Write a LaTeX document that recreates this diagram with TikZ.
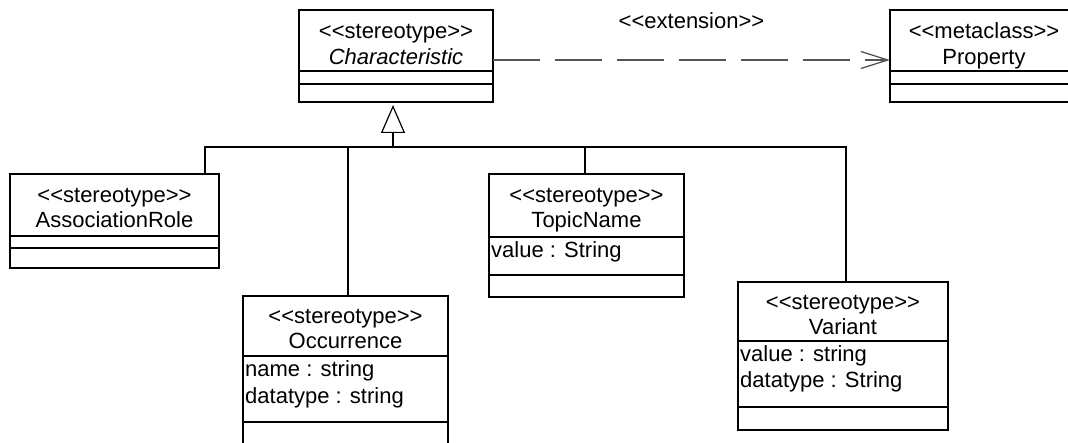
\documentclass[tikz,border=0pt]{standalone}
\usepackage{fontspec}
\setmainfont{Liberation Sans}
\usetikzlibrary{arrows.meta,calc}
\definecolor{umlink}{HTML}{000000}
\definecolor{umlgray}{HTML}{555555}
\tikzset{
  uml/.style={font=\fontsize{22}{26}\selectfont, text=umlink},
  umlbox/.style={draw=umlink, line width=1.4pt, anchor=north west, inner sep=0pt, outer sep=0pt},
  umlsep/.style={draw=umlink, line width=1.2pt},
  umltxt/.style={anchor=base, inner sep=0pt},
  umlattr/.style={anchor=base west, inner sep=0pt},
  umltree/.style={draw=umlink, line width=1.2pt},
  umlgen/.style={-{Triangle[open,length=28pt,width=24pt]}, draw=umlink, line width=1.2pt, shorten >=3pt},
  umlext/.style={-{Straight Barb[length=27pt,width=17pt]}, draw=umlgray, line width=1.3pt,
    dash pattern=on 47pt off 15pt},
}
\newcommand{\umlstereo}[1]{{<}{<}#1{>}{>}}
\newcommand{\umlcompartment}[2]{\draw[umlsep] ([yshift=-#2pt]#1.north west) -- ([yshift=-#2pt]#1.north east);}

\begin{document}
\begin{tikzpicture}[uml, x=1pt, y=-1pt]
  \useasboundingbox (0,0) rectangle (1068,443);
  \clip (0,0) rectangle (1068,443);
  % classes
  \node[umlbox, minimum width=194pt, minimum height=92pt] (characteristic) at (299,10) {};
  \umlcompartment{characteristic}{61}
  \umlcompartment{characteristic}{74}
  \node[umltxt] (charst) at ([yshift=-29pt]characteristic.north) {\umlstereo{stereotype}};
  \node[umltxt] (charnm) at ([yshift=-55pt]characteristic.north) {\itshape Characteristic};

  \node[umlbox, minimum width=188pt, minimum height=92pt] (property) at (890,10) {};
  \umlcompartment{property}{61}
  \umlcompartment{property}{74}
  \node[umltxt] (propst) at ([yshift=-29pt]property.north) {\umlstereo{metaclass}};
  \node[umltxt] (propnm) at ([yshift=-55pt]property.north) {Property};

  \node[umlbox, minimum width=209pt, minimum height=94pt] (assocrole) at (10,174) {};
  \umlcompartment{assocrole}{62}
  \umlcompartment{assocrole}{74}
  \node[umltxt] (assocst) at ([yshift=-29pt]assocrole.north) {\umlstereo{stereotype}};
  \node[umltxt] (assocnm) at ([yshift=-54pt]assocrole.north) {AssociationRole};

  \node[umlbox, minimum width=205pt, minimum height=160pt] (occurrence) at (243,296) {};
  \umlcompartment{occurrence}{60}
  \umlcompartment{occurrence}{126}
  \node[umltxt] (occst) at ([yshift=-28pt]occurrence.north) {\umlstereo{stereotype}};
  \node[umltxt] (occnm) at ([yshift=-53pt]occurrence.north) {Occurrence};
  \node[umlattr] (occname) at ([xshift=2pt,yshift=-81pt]occurrence.north west) {name : string};
  \node[umlattr] (occtype) at ([xshift=2pt,yshift=-107pt]occurrence.north west) {datatype : string};

  \node[umlbox, minimum width=195pt, minimum height=123pt] (topicname) at (489,174) {};
  \umlcompartment{topicname}{63}
  \umlcompartment{topicname}{101}
  \node[umltxt] (topicst) at ([yshift=-29pt]topicname.north) {\umlstereo{stereotype}};
  \node[umltxt] (topicnm) at ([yshift=-54pt]topicname.north) {TopicName};
  \node[umlattr] (topicval) at ([xshift=2pt,yshift=-84pt]topicname.north west) {value : String};

  \node[umlbox, minimum width=210pt, minimum height=148pt] (variant) at (738,282) {};
  \umlcompartment{variant}{59}
  \umlcompartment{variant}{125}
  \node[umltxt] (varst) at ([yshift=-28pt]variant.north) {\umlstereo{stereotype}};
  \node[umltxt] (varnm) at ([yshift=-53pt]variant.north) {Variant};
  \node[umlattr] (varval) at ([xshift=2pt,yshift=-80pt]variant.north west) {value : string};
  \node[umlattr] (vartype) at ([xshift=2pt,yshift=-106pt]variant.north west) {datatype : String};

  % generalization
  \coordinate (gen) at (393,147);
  \draw[umlgen] (gen) -- (gen |- characteristic.south);
  \draw[umltree] (gen) -| ([xshift=-14pt]assocrole.north east);
  \draw[umltree] (gen) -| ([xshift=2.5pt]occurrence.north);
  \draw[umltree] (gen) -| ([xshift=-1.5pt]topicname.north);
  \draw[umltree] (gen) -| ([xshift=3pt]variant.north);

  % extension
  \draw[umlext] ([yshift=-4pt]characteristic.east) --
    node[umltxt, midway, yshift=31pt] (extlbl) {\umlstereo{extension}}
    ([yshift=-4pt]property.west);
\end{tikzpicture}
\end{document}
